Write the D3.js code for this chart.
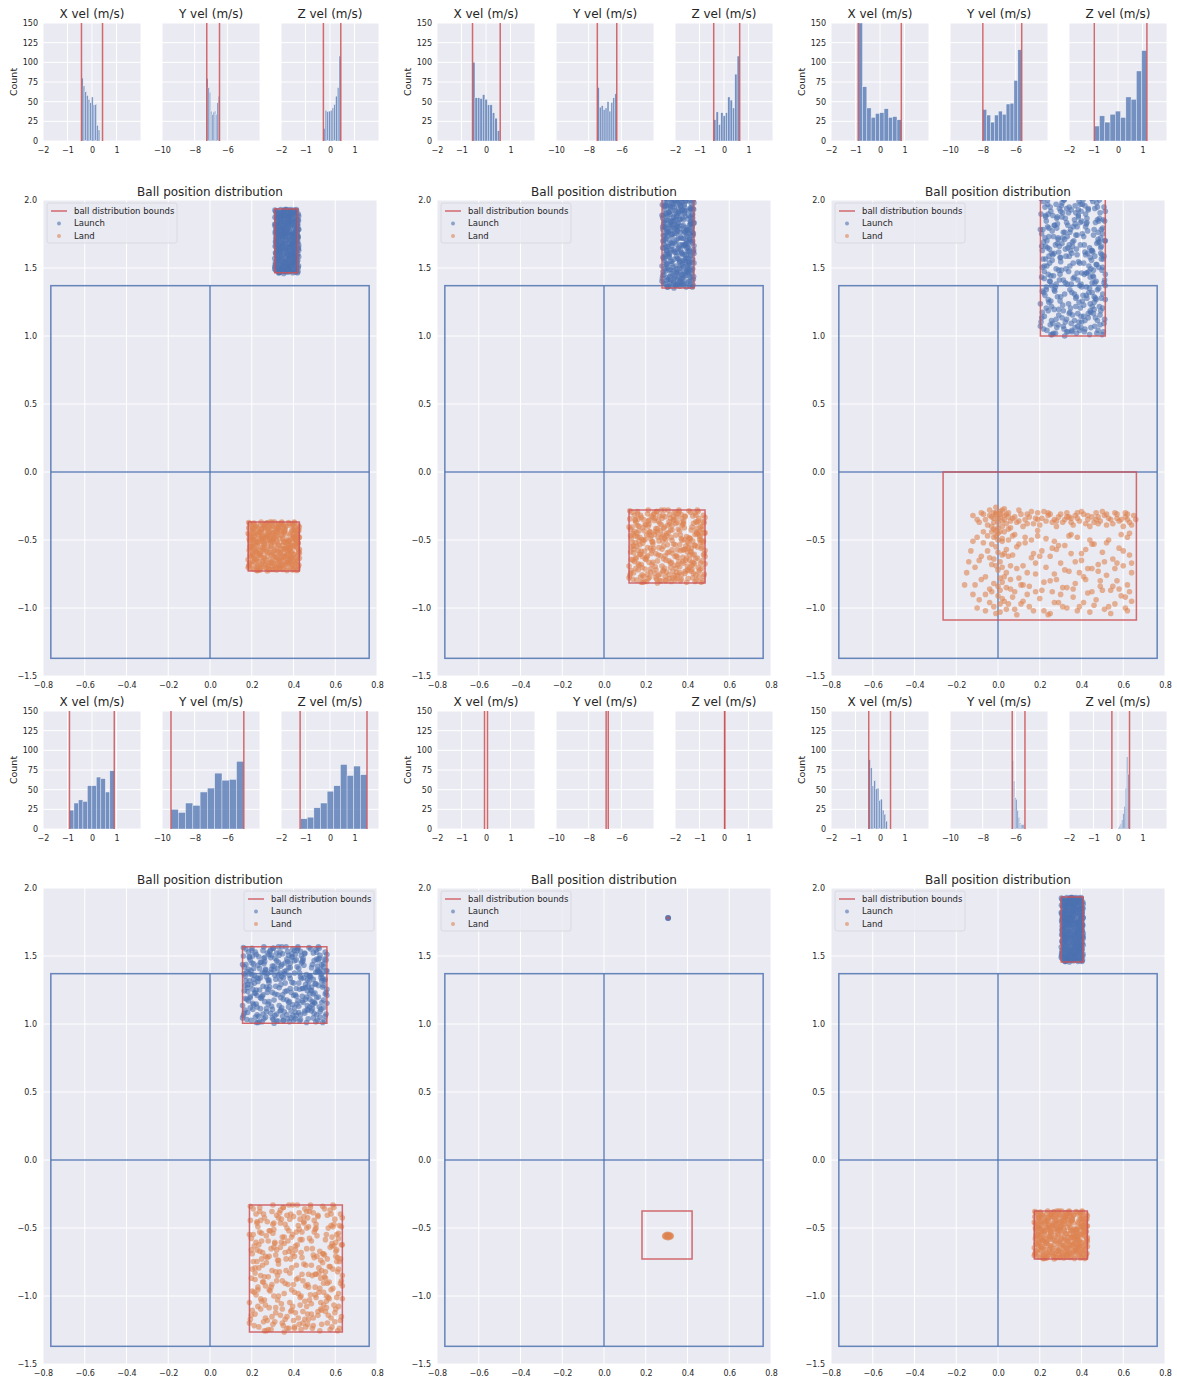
<!DOCTYPE html>
<html>
<head>
<meta charset="utf-8">
<script src="https://cdn.jsdelivr.net/npm/d3@7"></script>
<style>
  body { margin: 0; background: #fff; }
  svg { display: block; font-family: "DejaVu Sans", sans-serif; }
</style>
</head>
<body>
<svg id="chart" width="1177" height="1380"></svg>
<script>
// ---- data ----
const velTitles = ['X vel (m/s)', 'Y vel (m/s)', 'Z vel (m/s)'];
const velDomains = [[-2, 2], [-10, -4], [-2, 2]];
const velTicks = [[-2, -1, 0, 1], [-10, -8, -6], [-2, -1, 0, 1]];
const countTicks = [0, 25, 50, 75, 100, 125, 150];
const posXTicks = [-0.8, -0.6, -0.4, -0.2, 0, 0.2, 0.4, 0.6, 0.8];
const posYTicks = [-1.5, -1, -0.5, 0, 0.5, 1, 1.5, 2];

// table outline: side lines, centre line, net
const tableX = [-0.7625, 0, 0.7625];
const tableY = [-1.37, 0, 1.37];

// red bound lines of every velocity histogram, panel by panel
const velBounds = [
  [[-0.43, 0.43], [-7.26, -6.48], [-0.27, 0.44]],
  [[-0.55, 0.58], [-7.47, -6.28], [-0.42, 0.64]],
  [[-0.89, 0.87], [-7.99, -5.61], [-0.97, 1.18]],
  [[-0.92, 0.91], [-9.45, -4.99], [-1.22, 1.51]],
  [[-0.06, 0.06], [-6.93, -6.80], [0.02, 0.03]],
  [[-0.46, 0.43], [-6.19, -5.41], [-0.25, 0.47]]
];
// span covered by the bars
const binRange = [
  [[-0.43, 0.32], [-7.26, -6.48], [-0.27, 0.44]],
  [[-0.55, 0.56], [-7.47, -6.28], [-0.42, 0.63]],
  [[-0.89, 0.87], [-7.99, -5.61], [-0.97, 1.18]],
  [[-0.92, 0.91], [-9.45, -4.99], [-1.20, 1.51]],
  [[0, 0], [0, 0], [0, 0]],
  [[-0.46, 0.30], [-6.19, -5.45], [0.00, 0.45]]
];
const binCounts = [
  [[80, 70, 63, 58, 53, 49, 56, 46, 47, 20, 14], [80, 68, 62, 38, 34, 37, 38, 34, 49, 57], [16, 39, 38, 38, 39, 42, 47, 57, 68, 108]],
  [[100, 55, 55, 54, 59, 53, 46, 46, 36, 29, 13], [68, 43, 45, 40, 42, 50, 38, 49, 55, 60], [27, 37, 21, 36, 32, 36, 56, 52, 42, 85, 108]],
  [[150, 69, 42, 30, 35, 36, 41, 30, 31, 27], [40, 33, 24, 33, 38, 34, 47, 48, 77, 116], [19, 32, 24, 34, 38, 30, 56, 53, 89, 115]],
  [[24, 33, 37, 35, 55, 55, 66, 64, 47, 74], [25, 21, 33, 30, 47, 52, 71, 62, 63, 86], [13, 15, 27, 33, 48, 55, 82, 68, 80, 69]],
  [[], [], []],
  [[88, 78, 55, 62, 51, 52, 37, 38, 24, 19, 10], [87, 61, 40, 38, 24, 15, 8, 6, 6, 6], [2, 4, 7, 12, 20, 29, 52, 92, 70]]
];

// ball distribution bounds [x0, x1, y0, y1]
const launchBox = [
  [0.31, 0.42, 1.465, 1.934],
  [0.278, 0.431, 1.353, 2.3],
  [0.203, 0.514, 1.0, 2.5],
  [0.156, 0.56, 1.005, 1.568],
  [0.307, 0.307, 1.78, 1.78],
  [0.303, 0.408, 1.456, 1.934]
];
const landBox = [
  [0.183, 0.428, -0.728, -0.368],
  [0.12, 0.484, -0.816, -0.28],
  [-0.263, 0.663, -1.088, 0.0],
  [0.189, 0.634, -1.265, -0.331],
  [0.182, 0.422, -0.728, -0.375],
  [0.174, 0.428, -0.728, -0.375]
];
// where the launch / land points sit (null = listed separately)
const launchArea = [
  [0.31, 0.425, 1.46, 1.93],
  [0.278, 0.431, 1.353, 2.05],
  [0.203, 0.514, 1.0, 2.02],
  [0.156, 0.56, 1.005, 1.568],
  null,
  [0.303, 0.408, 1.456, 1.93]
];
const landArea = [
  [0.183, 0.428, -0.728, -0.368],
  [0.12, 0.484, -0.816, -0.28],
  null,
  [0.189, 0.634, -1.265, -0.331],
  null,
  [0.174, 0.428, -0.728, -0.375]
];
const legendSide = ['left', 'left', 'left', 'right', 'left', 'left'];

// scatter positions inside an area, in percent of its width / height
const spreadA = [
  12,87, 45,33, 78,61, 3,49, 91,15, 56,72, 27,8, 64,94, 39,57, 85,26,
  7,70, 50,41, 96,83, 21,19, 68,5, 33,66, 81,47, 15,92, 59,24, 42,79,
  94,58, 5,31, 73,13, 26,85, 48,3, 88,69, 18,54, 62,37, 36,97, 79,21,
  1,10, 54,88, 30,44, 93,76, 11,63, 70,29, 44,16, 83,91, 23,35, 66,52,
  9,82, 57,7, 98,40, 35,74, 76,56, 16,25, 51,99, 87,11, 28,60, 63,45,
  4,96, 46,20, 90,67, 20,2, 71,84, 38,38, 82,28, 13,77, 58,53, 97,9,
  31,89, 67,65, 6,14, 52,30, 86,95, 24,48, 75,1, 41,71, 99,36, 17,59,
  61,81, 34,22, 80,43, 10,68, 47,90, 92,18, 25,6, 69,78, 2,42, 55,62,
  89,34, 19,86, 74,50, 40,12, 95,73, 14,39, 60,4, 32,93, 84,27, 8,55,
  53,80, 77,17, 29,64, 65,99, 0,23, 43,46, 91,88, 22,32, 72,75, 37,0,
  85,51, 11,97, 49,67, 96,3, 26,28, 58,86, 80,60, 4,76, 66,14, 35,40,
  15,8, 93,55, 44,92, 70,35, 20,71, 61,20, 89,82, 6,46, 52,11, 78,98,
  31,53, 99,26, 40,81, 12,18, 67,44, 86,66, 24,94, 55,2, 3,61, 74,31,
  45,74, 16,43, 83,7, 62,89, 28,15, 97,57, 8,85, 50,52, 79,38, 37,69,
  64,25, 21,79, 88,4, 42,63, 9,33, 73,91, 33,13, 94,47, 56,78, 18,1,
  69,58, 1,87, 47,37, 82,19, 27,70, 59,96, 92,63, 13,24, 38,84, 76,42,
  5,5, 63,10, 98,68, 30,56, 54,27, 87,83, 23,65, 71,45, 17,36, 46,99,
  81,72, 10,50, 57,16, 34,88, 95,30, 48,59, 68,93, 25,77, 90,21, 2,64
];
const spreadB = [
  47,9, 8,64, 83,38, 29,91, 66,22, 14,52, 95,77, 40,3, 72,59, 21,33,
  58,85, 3,17, 89,49, 34,70, 77,6, 11,94, 52,42, 93,27, 26,80, 62,14,
  6,41, 80,96, 44,57, 17,11, 99,68, 37,30, 69,87, 0,76, 54,21, 86,51,
  23,2, 64,73, 32,47, 97,92, 12,26, 75,63, 49,15, 84,81, 19,58, 60,36,
  91,8, 42,99, 5,67, 70,45, 28,19, 88,74, 16,89, 55,28, 36,5, 78,54,
  9,35, 65,97, 46,61, 98,12, 25,84, 57,40, 82,24, 13,71, 73,90, 39,48,
  2,13, 87,33, 50,78, 31,56, 94,1, 61,65, 20,43, 76,18, 43,88, 7,29,
  68,60, 35,7, 90,84, 15,39, 53,93, 81,16, 27,69, 96,55, 48,31, 1,98,
  74,46, 22,79, 59,10, 38,62, 85,39, 10,4, 63,82, 30,25, 92,70, 45,50,
  4,55, 79,31, 33,95, 67,3, 18,75, 56,58, 95,20, 41,37, 87,92, 24,12,
  51,68, 8,86, 71,27, 99,44, 36,97, 62,6, 14,62, 82,76, 29,40, 45,17,
  92,59, 3,32, 58,90, 77,48, 19,9, 66,71, 43,23, 89,99, 6,50, 71,81,
  26,66, 97,38, 48,4, 11,78, 60,52, 84,13, 33,85, 75,34, 17,21, 54,72,
  40,91, 93,64, 0,7, 65,29, 28,47, 86,2, 52,83, 12,44, 79,61, 35,18,
  99,89, 21,59, 63,35, 46,76, 7,92, 83,57, 38,10, 56,45, 90,97, 16,1,
  70,80, 31,28, 95,49, 2,73, 49,64, 76,23, 24,37, 88,67, 42,3, 61,94,
  9,20, 81,42, 37,74, 68,11, 13,57, 98,82, 53,6, 25,99, 73,16, 44,65
];

// panel 3 landing points (x, y), band near -0.33 plus a wide spread below
const landP3 = [
  -0.12,-0.32, -0.08,-0.30, -0.06,-0.35, -0.04,-0.28, -0.03,-0.33, -0.02,-0.37, -0.01,-0.31, 0.00,-0.34, 0.01,-0.29, 0.02,-0.36,
  0.03,-0.32, 0.04,-0.38, 0.05,-0.30, 0.07,-0.34, 0.09,-0.37, 0.11,-0.31, 0.13,-0.35, 0.15,-0.33, 0.17,-0.38, 0.19,-0.30,
  0.21,-0.34, 0.23,-0.36, 0.25,-0.31, 0.27,-0.35, 0.29,-0.33, 0.31,-0.37, 0.33,-0.30, 0.35,-0.34, 0.37,-0.32, 0.39,-0.36,
  0.41,-0.31, 0.43,-0.35, 0.45,-0.33, 0.47,-0.30, 0.49,-0.36, 0.51,-0.32, 0.53,-0.34, 0.55,-0.38, 0.57,-0.31, 0.59,-0.35,
  0.61,-0.33, 0.63,-0.37, 0.65,-0.32, 0.64,-0.39, 0.60,-0.40, 0.52,-0.39, 0.44,-0.40, 0.36,-0.39, 0.28,-0.40, 0.20,-0.39,
  0.12,-0.40, 0.06,-0.41, -0.02,-0.42, -0.05,-0.39, 0.00,-0.45, 0.02,-0.40, 0.08,-0.33, 0.16,-0.29, 0.24,-0.32, 0.32,-0.35,
  0.40,-0.29, 0.48,-0.33, 0.56,-0.30, 0.62,-0.35, -0.10,-0.35, -0.07,-0.44, 0.03,-0.27, -0.01,-0.26, 0.10,-0.28, 0.18,-0.34,
  0.26,-0.37, 0.34,-0.33, 0.42,-0.38, 0.50,-0.29, 0.58,-0.36, 0.14,-0.31, 0.22,-0.29, 0.30,-0.31, 0.38,-0.34, 0.46,-0.37,
  0.54,-0.35, -0.01,-0.30, 0.01,-0.33, 0.02,-0.28, -0.02,-0.34, 0.04,-0.31, 0.06,-0.36, 0.35,-0.37, 0.47,-0.35, 0.61,-0.30,
  -0.04,-0.32, -0.02,-0.30, 0.00,-0.37, 0.01,-0.31, 0.03,-0.35, 0.05,-0.33, 0.10,-0.36, 0.14,-0.38, 0.19,-0.35, 0.24,-0.30,
  0.28,-0.36, 0.33,-0.33, 0.38,-0.30, 0.43,-0.32, 0.48,-0.38, 0.52,-0.31, 0.57,-0.34, 0.62,-0.31, 0.66,-0.35, -0.09,-0.37,
  -0.07,-0.31, 0.00,-0.41, -0.01,-0.47, 0.01,-0.44, 0.02,-0.49, -0.03,-0.40,
  -0.16,-0.83, -0.13,-0.58, -0.11,-0.70, -0.09,-0.94, -0.07,-0.52, -0.06,-0.77, -0.04,-0.63, -0.03,-0.88, -0.02,-0.99, -0.01,-0.55,
  0.00,-0.72, 0.00,-0.91, 0.01,-0.66, 0.01,-1.03, 0.02,-0.81, 0.03,-0.60, 0.03,-0.95, 0.04,-0.74, 0.05,-0.50, 0.06,-0.86,
  0.07,-0.61, 0.08,-1.01, 0.09,-0.55, 0.10,-0.78, 0.11,-0.97, 0.12,-0.69, 0.13,-0.52, 0.14,-0.90, 0.15,-0.84, 0.16,-0.63,
  0.17,-1.02, 0.18,-0.75, 0.19,-0.47, 0.20,-0.93, 0.21,-0.58, 0.22,-0.81, 0.23,-0.70, 0.24,-1.05, 0.25,-0.62, 0.26,-0.88,
  0.27,-0.51, 0.28,-0.79, 0.29,-0.96, 0.30,-0.67, 0.31,-0.85, 0.32,-0.54, 0.33,-1.00, 0.34,-0.73, 0.35,-0.60, 0.36,-0.92,
  0.37,-0.82, 0.38,-0.48, 0.39,-0.99, 0.40,-0.65, 0.41,-0.77, 0.42,-0.57, 0.43,-0.89, 0.44,-1.03, 0.45,-0.71, 0.46,-0.53,
  0.47,-0.94, 0.48,-0.68, 0.49,-0.84, 0.50,-0.59, 0.51,-1.01, 0.52,-0.76, 0.53,-0.50, 0.54,-0.87, 0.55,-0.64, 0.56,-0.97,
  0.57,-0.80, 0.58,-0.56, 0.59,-0.91, 0.60,-0.69, 0.61,-1.00, 0.62,-0.83, 0.63,-0.61, 0.64,-0.95, 0.64,-0.74, 0.62,-0.48,
  -0.05,-0.47, -0.03,-0.68, -0.02,-0.82, -0.01,-0.43, 0.00,-0.59, 0.01,-0.78, 0.02,-0.51, 0.02,-0.93, 0.04,-0.85, -0.04,-0.96,
  -0.08,-0.62, -0.10,-0.48, -0.12,-0.90, -0.14,-0.66, 0.06,-0.69, 0.05,-0.97, 0.08,-0.46, 0.09,-1.05, 0.11,-0.83, 0.13,-0.48,
  0.17,-0.60, 0.21,-0.87, 0.25,-1.04, 0.29,-0.54, 0.33,-0.85, 0.37,-0.66, 0.41,-0.96, 0.45,-0.53, 0.49,-0.80, 0.53,-0.99,
  0.57,-0.67, 0.61,-0.92, 0.63,-0.45, -0.06,-1.02, 0.35,-0.46, 0.15,-0.99, 0.27,-0.75, 0.43,-0.71, 0.55,-0.84, 0.19,-0.43,
  -0.15,-0.74, -0.12,-0.51, -0.10,-1.00, -0.08,-0.79, -0.05,-0.58, -0.04,-0.86, -0.02,-0.64, -0.01,-1.04, 0.00,-0.50, 0.01,-0.87,
  0.02,-0.70, 0.03,-0.44, 0.04,-1.01, 0.05,-0.62, 0.06,-0.79, 0.07,-0.92, 0.09,-0.71, 0.10,-0.53, 0.12,-0.95, 0.14,-0.74,
  0.16,-0.50, 0.18,-0.88, 0.20,-0.62, 0.22,-1.02, 0.23,-0.49, 0.25,-0.80, 0.27,-0.96, 0.28,-0.57, 0.30,-0.90, 0.32,-0.72,
  0.34,-0.47, 0.36,-0.86, 0.38,-1.02, 0.40,-0.60, 0.42,-0.79, 0.44,-0.50, 0.46,-0.98, 0.48,-0.73, 0.50,-0.87, 0.52,-0.52,
  0.54,-1.04, 0.56,-0.71, 0.58,-0.86, 0.60,-0.58, 0.62,-1.02, 0.64,-0.67, 0.63,-0.88, 0.59,-0.46, 0.51,-0.66, 0.45,-0.88,
  0.39,-0.74, 0.31,-0.99, 0.26,-0.56, 0.18,-0.67, 0.12,-0.83, 0.07,-0.47, 0.03,-0.77, -0.01,-0.69, -0.03,-0.53, -0.06,-0.90,
  -0.09,-0.65, -0.11,-0.83, 0.02,-0.61, 0.00,-0.84, -0.02,-0.48, 0.01,-0.97, 0.04,-0.57, 0.05,-0.42, -0.03,-0.44, 0.08,-0.88
];
// panel 5: every ball launched from the same spot, landing in a tight blob
const launchP5 = [0.307, 1.78];
const landP5 = [
  0.292,-0.556, 0.298,-0.549, 0.305,-0.546, 0.313,-0.548, 0.320,-0.553, 0.322,-0.561, 0.316,-0.568,
  0.307,-0.571, 0.298,-0.568, 0.291,-0.563, 0.302,-0.558, 0.310,-0.556, 0.306,-0.562, 0.314,-0.560
];

// ---- drawing ----
const BLUE = '#4c72b0', ORANGE = '#dd8452', RED = '#cc5256', BG = '#eaeaf2', INK = '#262626';
const TICK = '8px';
const minus = s => String(s).replace('-', '\u2212');
const svg = d3.select('#chart');

const colX = [43, 437, 831];
const histTop = [23, 711], histBot = [141, 829];
const scTop = [200, 888], scBot = [676, 1364];
const histOff = [0, 119, 238], histW = 98, scW = 334;

function pairs(flat) {
  const out = [];
  for (let i = 0; i < flat.length; i += 2) out.push([flat[i], flat[i + 1]]);
  return out;
}
function spreadIn(area) {
  return pairs(spreadA.concat(spreadB)).map(([u, v]) => [
    area[0] + u / 99 * (area[1] - area[0]),
    area[2] + v / 99 * (area[3] - area[2])
  ]);
}
const tickStyle = a => a.selectAll('text').attr('fill', INK)
  .style('font-size', TICK).style('font-family', 'DejaVu Sans');

for (let p = 0; p < 6; p++) {
  const col = p % 3, row = Math.floor(p / 3);

  // --- three velocity histograms ---
  for (let i = 0; i < 3; i++) {
    const x0 = colX[col] + histOff[i];
    const x = d3.scaleLinear().domain(velDomains[i]).range([x0, x0 + histW]);
    const y = d3.scaleLinear().domain([0, 150]).range([histBot[row], histTop[row]]);
    const g = svg.append('g');
    g.append('rect').attr('x', x0).attr('y', histTop[row]).attr('width', histW)
      .attr('height', histBot[row] - histTop[row]).attr('fill', BG);
    g.selectAll('.gx').data(velTicks[i].concat([velDomains[i][1]])).join('line')
      .attr('x1', d => x(d)).attr('x2', d => x(d)).attr('y1', histTop[row]).attr('y2', histBot[row])
      .attr('stroke', '#fff').attr('stroke-width', 1);
    g.selectAll('.gy').data(countTicks).join('line')
      .attr('x1', x0).attr('x2', x0 + histW).attr('y1', d => y(d)).attr('y2', d => y(d))
      .attr('stroke', '#fff').attr('stroke-width', 1);

    const counts = binCounts[p][i], [lo, hi] = binRange[p][i];
    const bw = counts.length ? (hi - lo) / counts.length : 0;
    g.selectAll('.bar').data(counts).join('rect')
      .attr('x', (d, k) => x(lo + k * bw)).attr('width', x(lo + bw) - x(lo))
      .attr('y', d => y(Math.min(d, 150))).attr('height', d => y(0) - y(Math.min(d, 150)))
      .attr('fill', BLUE).attr('fill-opacity', 0.75)
      .attr('stroke', '#fff').attr('stroke-opacity', 0.7).attr('stroke-width', 0.5);

    g.selectAll('.bd').data(velBounds[p][i]).join('line')
      .attr('x1', d => x(d)).attr('x2', d => x(d)).attr('y1', histTop[row]).attr('y2', histBot[row])
      .attr('stroke', RED).attr('stroke-width', 1.5).attr('stroke-opacity', 0.85);

    g.append('g').attr('transform', `translate(0,${histBot[row]})`)
      .call(d3.axisBottom(x).tickValues(velTicks[i]).tickSize(0).tickPadding(6).tickFormat(minus))
      .call(a => a.select('.domain').remove()).call(tickStyle);
    if (i === 0) {
      g.append('g').attr('transform', `translate(${x0},0)`)
        .call(d3.axisLeft(y).tickValues(countTicks).tickSize(0).tickPadding(5))
        .call(a => a.select('.domain').remove()).call(tickStyle);
      g.append('text').attr('transform', `translate(${x0 - 26},${(histTop[row] + histBot[row]) / 2}) rotate(-90)`)
        .attr('text-anchor', 'middle').attr('fill', INK).style('font-size', '9.5px').text('Count');
    }
    g.append('text').attr('x', x0 + histW / 2).attr('y', histTop[row] - 5)
      .attr('text-anchor', 'middle').attr('fill', INK).style('font-size', '12px').text(velTitles[i]);
  }

  // --- ball position scatter ---
  const sx0 = colX[col];
  const x = d3.scaleLinear().domain([-0.8, 0.8]).range([sx0, sx0 + scW]);
  const y = d3.scaleLinear().domain([-1.5, 2]).range([scBot[row], scTop[row]]);
  const g = svg.append('g');
  const clipId = 'clip' + p;
  g.append('clipPath').attr('id', clipId).append('rect')
    .attr('x', sx0).attr('y', scTop[row]).attr('width', scW).attr('height', scBot[row] - scTop[row]);
  g.append('rect').attr('x', sx0).attr('y', scTop[row]).attr('width', scW)
    .attr('height', scBot[row] - scTop[row]).attr('fill', BG);
  g.selectAll('.gx').data(posXTicks).join('line')
    .attr('x1', d => x(d)).attr('x2', d => x(d)).attr('y1', scTop[row]).attr('y2', scBot[row])
    .attr('stroke', '#fff').attr('stroke-width', 1);
  g.selectAll('.gy').data(posYTicks).join('line')
    .attr('x1', sx0).attr('x2', sx0 + scW).attr('y1', d => y(d)).attr('y2', d => y(d))
    .attr('stroke', '#fff').attr('stroke-width', 1);

  const plot = g.append('g').attr('clip-path', `url(#${clipId})`);
  // table
  const tbl = plot.append('g').attr('stroke', BLUE).attr('stroke-width', 1.5).attr('stroke-opacity', 0.85).attr('fill', 'none');
  tbl.append('rect').attr('x', x(tableX[0])).attr('y', y(tableY[2]))
    .attr('width', x(tableX[2]) - x(tableX[0])).attr('height', y(tableY[0]) - y(tableY[2]));
  tbl.append('line').attr('x1', x(tableX[1])).attr('x2', x(tableX[1])).attr('y1', y(tableY[0])).attr('y2', y(tableY[2]));
  tbl.append('line').attr('x1', x(tableX[0])).attr('x2', x(tableX[2])).attr('y1', y(tableY[1])).attr('y2', y(tableY[1]));

  const single = !launchArea[p];
  const launchPts = single ? [launchP5] : spreadIn(launchArea[p]);
  const landPts = landArea[p] ? spreadIn(landArea[p]) : pairs(p === 2 ? landP3 : landP5);
  plot.append('g').selectAll('circle').data(launchPts).join('circle')
    .attr('cx', d => x(d[0])).attr('cy', d => y(d[1])).attr('r', single ? 3 : 2.8)
    .attr('fill', BLUE).attr('fill-opacity', single ? 0.95 : 0.6);
  plot.append('g').selectAll('circle').data(landPts).join('circle')
    .attr('cx', d => x(d[0])).attr('cy', d => y(d[1])).attr('r', 2.8)
    .attr('fill', ORANGE).attr('fill-opacity', 0.6);

  [launchBox[p], landBox[p]].forEach(b => {
    if (b[0] === b[1] && b[2] === b[3]) {
      // collapsed bounds: a single red point
      plot.append('circle').attr('cx', x(b[0])).attr('cy', y(b[2])).attr('r', 1.3)
        .attr('fill', RED);
      return;
    }
    const path = d3.path();
    path.moveTo(x(b[0]), y(b[2])); path.lineTo(x(b[1]), y(b[2]));
    path.lineTo(x(b[1]), y(b[3])); path.lineTo(x(b[0]), y(b[3])); path.closePath();
    plot.append('path').attr('d', path.toString()).attr('fill', 'none')
      .attr('stroke', RED).attr('stroke-width', 1.5).attr('stroke-opacity', 0.85);
  });

  g.append('g').attr('transform', `translate(0,${scBot[row]})`)
    .call(d3.axisBottom(x).tickValues(posXTicks).tickSize(0).tickPadding(6).tickFormat(d => minus(d.toFixed(1))))
    .call(a => a.select('.domain').remove()).call(tickStyle);
  g.append('g').attr('transform', `translate(${sx0},0)`)
    .call(d3.axisLeft(y).tickValues(posYTicks).tickSize(0).tickPadding(6).tickFormat(d => minus(d.toFixed(1))))
    .call(a => a.select('.domain').remove()).call(tickStyle);
  g.append('text').attr('x', sx0 + scW / 2).attr('y', scTop[row] - 4)
    .attr('text-anchor', 'middle').attr('fill', INK).style('font-size', '12px').text('Ball position distribution');

  // legend
  const lw = 130, lh = 40;
  const lx = legendSide[p] === 'left' ? sx0 + 4 : sx0 + scW - 3 - lw;
  const ly = scTop[row] + 3;
  const lg = g.append('g').attr('transform', `translate(${lx},${ly})`);
  lg.append('rect').attr('width', lw).attr('height', lh).attr('rx', 2)
    .attr('fill', BG).attr('fill-opacity', 0.8).attr('stroke', '#d5d5dc').attr('stroke-width', 0.8);
  lg.append('line').attr('x1', 4).attr('x2', 20).attr('y1', 8).attr('y2', 8)
    .attr('stroke', RED).attr('stroke-width', 1.5).attr('stroke-opacity', 0.85);
  lg.append('circle').attr('cx', 12).attr('cy', 20.5).attr('r', 2).attr('fill', BLUE).attr('fill-opacity', 0.6);
  lg.append('circle').attr('cx', 12).attr('cy', 33).attr('r', 2).attr('fill', ORANGE).attr('fill-opacity', 0.6);
  [['ball distribution bounds', 8], ['Launch', 20.5], ['Land', 33]].forEach(([t, yy]) => {
    lg.append('text').attr('x', 27).attr('y', yy).attr('dy', '0.35em').attr('fill', INK)
      .style('font-size', '8.5px').text(t);
  });
}
</script>
</body>
</html>
